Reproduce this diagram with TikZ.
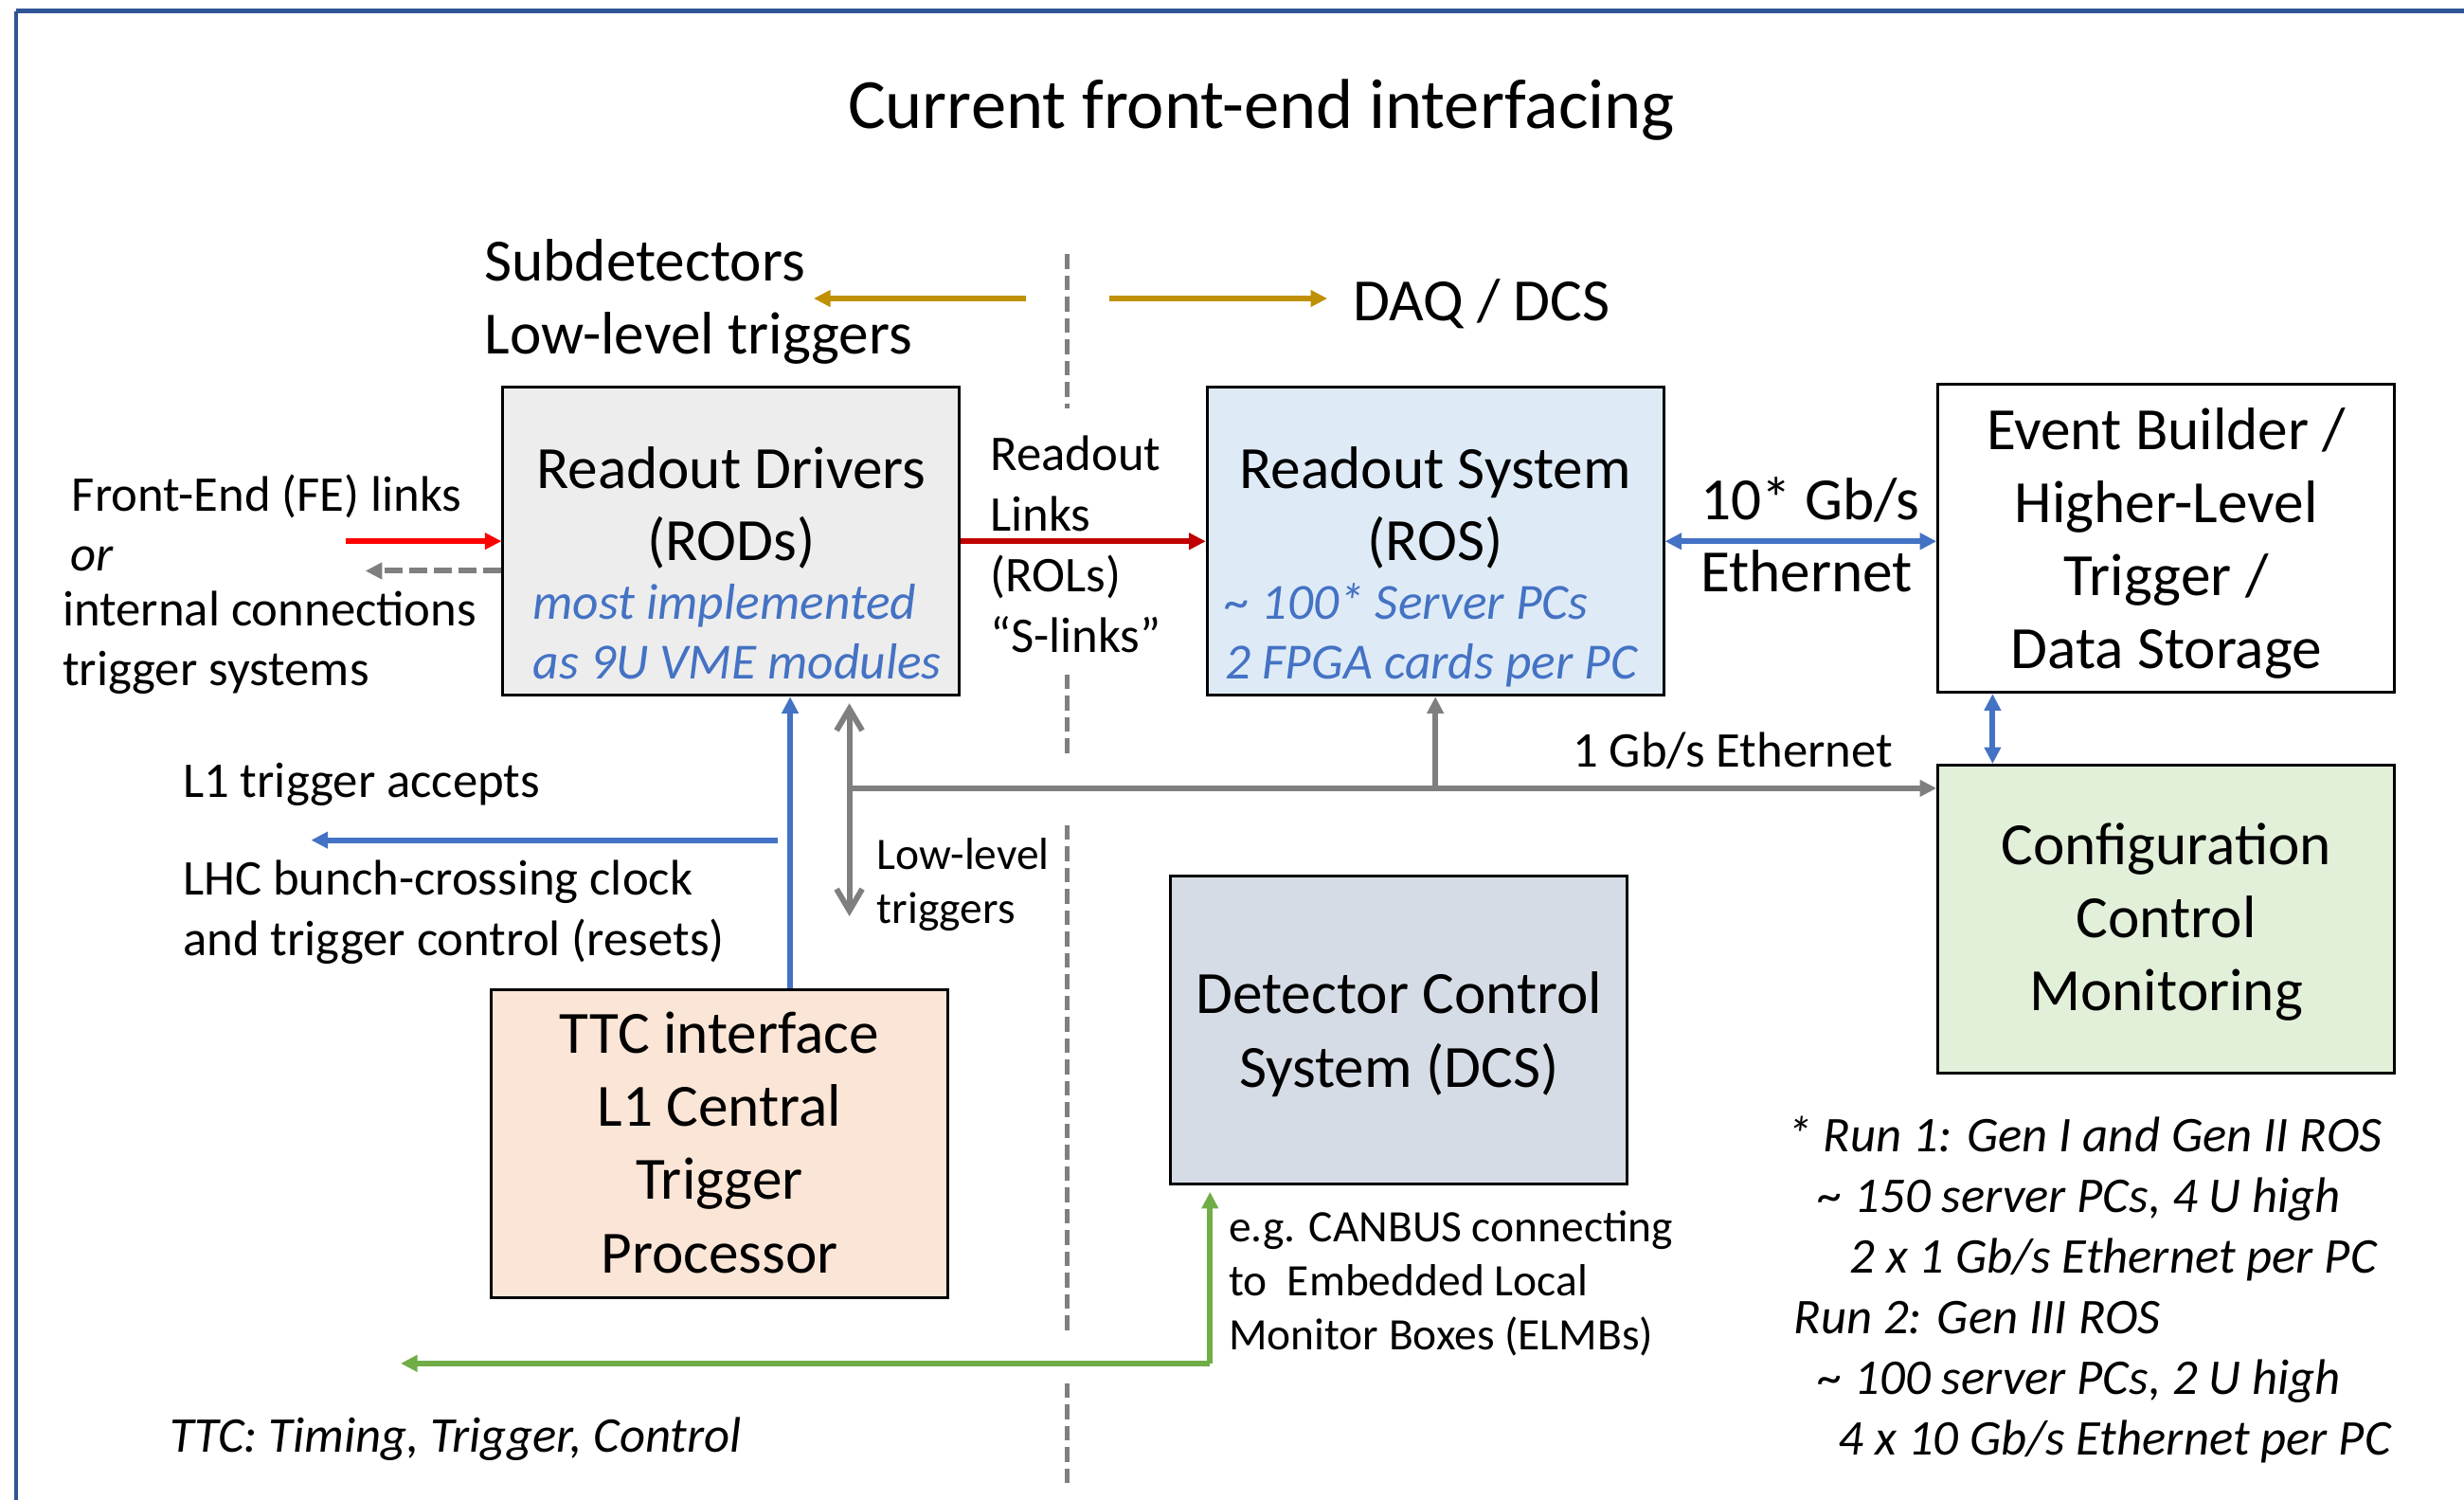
\documentclass[tikz,border=0pt]{standalone}
\usepackage{fontspec}
\setmainfont{Carlito}
\usetikzlibrary{arrows.meta}

\definecolor{frameblue}{HTML}{2F5597}
\definecolor{gold}{HTML}{BF9000}
\definecolor{fered}{HTML}{FF0000}
\definecolor{rolred}{HTML}{C00000}
\definecolor{netblue}{HTML}{4472C4}
\definecolor{busgray}{HTML}{7F7F7F}
\definecolor{dcsgreen}{HTML}{70AD47}
\definecolor{rodfill}{HTML}{EDEDED}
\definecolor{rosfill}{HTML}{DEEBF7}
\definecolor{cfgfill}{HTML}{E2F0D9}
\definecolor{dcsfill}{HTML}{D6DCE5}
\definecolor{ttcfill}{HTML}{FBE5D6}

\begin{document}
\begin{tikzpicture}[x=0.01659cm, y=-0.01659cm,
  >={Triangle[length=5pt,width=4.8pt]},
  box/.style={draw=black, line width=0.8pt, minimum width=4.82cm, minimum height=3.25cm, inner sep=0pt},
  boxtxt/.style={anchor=base, inner sep=0pt, font=\fontsize{18}{21.8}\selectfont},
  big/.style={anchor=base west, inner sep=0pt, font=\fontsize{18}{21.8}\selectfont},
  lbl/.style={anchor=base west, inner sep=0pt, font=\fontsize{15}{18}\selectfont},
  small/.style={anchor=base west, inner sep=0pt, font=\fontsize{13.5}{16}\selectfont},
  blu/.style={anchor=base west, inner sep=0pt, text=netblue, font=\fontsize{15.2}{18}\selectfont\itshape},
  note/.style={anchor=base west, inner sep=0pt, font=\fontsize{15}{18}\selectfont\itshape},
  divider/.style={busgray, line width=1.5pt, dash pattern=on 4.4pt off 2pt},
  link/.style={line width=1.7pt},
  barb/.style={{Straight Barb[length=6.5pt,width=7.7pt]}-{Straight Barb[length=6.5pt,width=7.7pt]}},
]
  \useasboundingbox (0,0) rectangle (1568,954);

  % slide frame
  \draw[frameblue, line width=1.2pt] (10.2,7) -- (1568,7);
  \draw[frameblue, line width=0.9pt] (10.2,7) -- (10.2,954);

  \node[anchor=base, inner sep=0pt, font=\fontsize{21.2}{25}\selectfont] (title) at (802.7,81.4) {Current front-end interfacing};

  % boundary between subdetector side and DAQ side
  \foreach \a/\b in {161.7/260, 429/479, 525/849, 880/945}
    \draw[divider] (679.2,\a) -- (679.2,\b);

  \node[big] (sub-1) at (307.9,178.8) {Subdetectors};
  \node[big] (sub-2) at (307.9,225) {Low-level triggers};
  \node[big] (daq) at (860.7,204) {DAQ / DCS};
  \coordinate (gl) at (652.7,189.9);
  \coordinate (glend) at (517.8,189.9);
  \coordinate (gr) at (705.7,189.9);
  \coordinate (grend) at (844.7,189.9);
  \draw[gold, line width=1.9pt, ->] (gl) -- (glend);
  \draw[gold, line width=1.9pt, ->] (gr) -- (grend);

  % boxes
  \node[box, fill=rodfill] (rod) at (465.3,344.4) {};
  \node[box, fill=rosfill] (ros) at (913.4,344.4) {};
  \node[box, fill=white]   (eb)  at (1378.5,342.6) {};
  \node[box, fill=cfgfill] (cfg) at (1378.5,584.8) {};
  \node[box, fill=dcsfill] (dcs) at (890.2,655.2) {};
  \node[box, fill=ttcfill] (ttc) at (457.8,727.5) {};

  \foreach \t [count=\i] in {Readout Drivers, (RODs)}
    \node[boxtxt] (rod-\i) at (465.3,{311+45.7*(\i-1)}) {\t};
  \node[blu] (rod-3) at (338.8,394) {most implemented};
  \node[blu] (rod-4) at (338.8,432) {as 9U VME modules};

  \foreach \t [count=\i] in {Readout System, (ROS)}
    \node[boxtxt] (ros-\i) at (913.4,{311+45.7*(\i-1)}) {\t};
  \node[blu] (ros-3) at (779.2,394) {\textasciitilde\ 100* Server PCs};
  \node[blu] (ros-4) at (779.2,432) {2 FPGA cards per PC};

  \foreach \t [count=\i] in {Event Builder /, Higher-Level, Trigger /, Data Storage}
    \node[boxtxt] (eb-\i) at (1378.5,{286.1+46.4*(\i-1)}) {\t};
  \foreach \t [count=\i] in {Configuration, Control, Monitoring}
    \node[boxtxt] (cfg-\i) at (1378.5,{550.3+46.2*(\i-1)}) {\t};
  \foreach \t [count=\i] in {Detector Control, System (DCS)}
    \node[boxtxt] (dcs-\i) at (890.2,{644.7+47.3*(\i-1)}) {\t};
  \foreach \t [count=\i] in {TTC interface, L1 Central, Trigger, Processor}
    \node[boxtxt] (ttc-\i) at (457.8,{669.9+46.6*(\i-1)}) {\t};

  % front-end side
  \node[lbl] (fe-1) at (45.3,325.5) {Front-End (FE) links};
  \node[note] (fe-2) at (44.6,363) {or};
  \node[lbl] (fe-3) at (39.4,398) {internal connections};
  \node[lbl] (fe-4) at (39.4,436) {trigger systems};
  \coordinate (fein) at (220,344.3);
  \coordinate (feout) at (232.5,363.2);
  \draw[fered, link, ->] (fein) -- (fein -| rod.west);
  \draw[busgray, link, dash pattern=on 5.4pt off 2pt, ->] (feout -| rod.west) -- (feout);

  % readout links
  \foreach \t [count=\i] in {Readout, Links, (ROLs), “S-links”}
    \node[lbl] (rol-\i) at (629.8,{299.6+38.4*(\i-1)}) {\t};
  \draw[rolred, link, ->] (rod.east) -- (ros.west);

  \node[big] (eth-1) at (1081.8,330.7) {10* Gb/s};
  \node[big] (eth-2) at (1081.8,376.7) {Ethernet};
  \draw[netblue, link, <->] (ros.east) -- (ros.east -| eb.west);
  \coordinate (ebcfg) at (1268,0);
  \draw[netblue, link, <->] (eb.south -| ebcfg) -- (cfg.north -| ebcfg);

  % 1 Gb/s control network
  \coordinate (bus) at (540.5,501.5);
  \coordinate (llt) at (540.5,582.9);
  \node[lbl, anchor=base east] (gbe) at (1205,488.3) {1 Gb/s Ethernet};
  \draw[busgray, link, ->] (bus) -- (bus -| cfg.west);
  \draw[busgray, link, ->] (ros.south |- bus) -- (ros.south);
  \draw[busgray, link, barb, shorten <=2pt] (bus |- rod.south) -- (llt);
  \node[small] (llt-1) at (557.7,553) {Low-level};
  \node[small] (llt-2) at (557.7,587.3) {triggers};

  % TTC distribution
  \coordinate (l1) at (494.9,534.5);
  \coordinate (l1end) at (198,534.5);
  \draw[netblue, link, ->] (ttc.north -| 502.8,0) -- (rod.south -| 502.8,0);
  \draw[netblue, link, ->] (l1) -- (l1end);
  \node[lbl] (l1acc) at (116,507) {L1 trigger accepts};
  \node[lbl] (lhc-1) at (116,569.3) {LHC bunch-crossing clock};
  \node[lbl] (lhc-2) at (116,607.7) {and trigger control (resets)};

  % DCS links
  \coordinate (can) at (770,867.4);
  \coordinate (canend) at (255,867.4);
  \draw[dcsgreen, link, ->, shorten >=2pt] (can) -- (can |- dcs.south);
  \draw[dcsgreen, link, ->] (can) -- (canend);
  \node[small] (can-1) at (781.5,790) {e.g. CANBUS connecting};
  \node[small] (can-2) at (781.5,824.2) {to\ \ Embedded Local};
  \node[small] (can-3) at (781.5,859) {Monitor Boxes (ELMBs)};

  \node[note] (ttcnote) at (107.5,923.9) {TTC: Timing, Trigger, Control};

  % ROS generations
  \node[note] (run-1) at (1136.8,733) {* Run 1: Gen I and Gen II ROS};
  \node[note] (run-2) at (1156.7,771.6) {\textasciitilde\ 150 server PCs, 4 U high};
  \node[note] (run-3) at (1176.6,809.7) {2 x 1 Gb/s Ethernet per PC};
  \node[note] (run-4) at (1141,848.3) {Run 2: Gen III ROS};
  \node[note] (run-5) at (1156.7,887) {\textasciitilde\ 100 server PCs, 2 U high};
  \node[note] (run-6) at (1169.5,925.9) {4 x 10 Gb/s Ethernet per PC};
\end{tikzpicture}
\end{document}
